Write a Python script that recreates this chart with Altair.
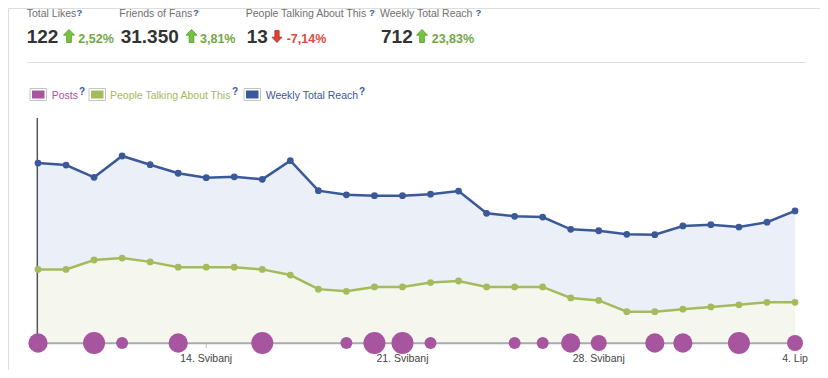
import altair as alt
import pandas as pd

# ---------------- data ----------------
dates = pd.date_range("2012-05-08", "2012-06-04").strftime("%Y-%m-%dT00:00:00").tolist()
reach = [970, 959, 893, 1008, 961, 915, 891, 896, 882, 983, 821, 799, 794, 794,
         802, 819, 699, 683, 679, 613, 605, 586, 584, 631, 638, 625, 651, 712]
ptat = [23.5, 23.5, 26.5, 27.1, 25.9, 24.2, 24.2, 24.2, 23.5, 21.7, 17.2, 16.5, 17.9, 17.9,
        19.3, 19.8, 17.9, 17.9, 17.9, 14.4, 13.6, 10.0, 10.0, 10.8, 11.5, 12.2, 13.0, 13.0]
posts = [3, 0, 4, 1, 0, 3, 0, 0, 4, 0, 0, 1, 4, 4, 1, 0, 0, 1, 1, 3, 2, 0, 3, 3, 0, 4, 0, 2]

tick_dates = ["2012-05-14T00:00:00", "2012-05-21T00:00:00", "2012-05-28T00:00:00", "2012-06-04T00:00:00"]
tick_labels = ["14. Svibanj", "21. Svibanj", "28. Svibanj", "4. Lip"]

header_labels = ["Total Likes", "Friends of Fans", "People Talking About This", "Weekly Total Reach"]
header_values = ["122", "31.350", "13", "712"]
header_changes = ["2,52%", "3,81%", "-7,14%", "23,83%"]
header_up = [True, True, False, True]

legend_labels = ["Posts", "People Talking About This", "Weekly Total Reach"]

# ---------------- styles / layout ----------------
BLUE = "#3b5998"
BLUE_FILL = "#ebeff7"
GREEN = "#a4bb5c"
GREEN_FILL = "#f5f7ee"
PURPLE = "#a8559f"
FONT = "Liberation Sans"

W, H = 812, 362
X0, X1 = 30, 787
Y0, YT = 335, 112

df = pd.DataFrame({"date": dates, "reach": reach, "ptat": ptat, "posts": posts})
ticks_df = pd.DataFrame({"date": tick_dates, "label": tick_labels})

xscale = alt.Scale(domain=[alt.DateTime(year=2012, month=5, date=8),
                           alt.DateTime(year=2012, month=6, date=4)],
                   range=[X0, X1])
xenc = alt.X("date:T", scale=xscale, axis=None)

reach_scale = alt.Scale(domain=[0, 1202], range=[Y0, YT], zero=False, nice=False)
ptat_scale = alt.Scale(domain=[0, 71.2], range=[Y0, YT], zero=False, nice=False)

base = alt.Chart(df)

reach_area = base.mark_area(color=BLUE_FILL, opacity=1).encode(
    x=xenc, y=alt.Y("reach:Q", scale=reach_scale, axis=None), y2=alt.datum(0))
ptat_area = base.mark_area(color=GREEN_FILL, opacity=1).encode(
    x=xenc, y=alt.Y("ptat:Q", scale=ptat_scale, axis=None), y2=alt.datum(0))

baseline = alt.Chart(alt.Data(values=[{}])).mark_rule(color="#aaaaaa", strokeWidth=2).encode(
    x=alt.value(X0), x2=alt.value(X1), y=alt.value(Y0 + 0.3))
vaxis = alt.Chart(alt.Data(values=[{}])).mark_rule(color="#555555", strokeWidth=1.5).encode(
    x=alt.value(X0 - 0.7), y=alt.value(110), y2=alt.value(Y0))

tick_marks = alt.Chart(ticks_df).mark_rule(color="#bbbbbb", strokeWidth=1).encode(
    x=xenc, y=alt.value(Y0 + 1), y2=alt.value(Y0 + 5))
tick_text = alt.Chart(ticks_df).mark_text(font=FONT, fontSize=10.5, color="#444444",
                                          align="center", baseline="alphabetic").encode(
    x=xenc, y=alt.value(353.5), text="label:N")

reach_line = base.mark_line(color=BLUE, strokeWidth=2.5).encode(
    x=xenc, y=alt.Y("reach:Q", scale=reach_scale, axis=None))
reach_pts = base.mark_circle(color=BLUE, opacity=1, size=46).encode(
    x=xenc, y=alt.Y("reach:Q", scale=reach_scale, axis=None)).transform_filter(
    f"datum.date != '{dates[-1]}'")
reach_last = base.mark_point(color=BLUE, fill="white", filled=False, opacity=1, size=40,
                             strokeWidth=2).encode(
    x=xenc, y=alt.Y("reach:Q", scale=reach_scale, axis=None)).transform_filter(
    f"datum.date == '{dates[-1]}'")

ptat_line = base.mark_line(color=GREEN, strokeWidth=2.5).encode(
    x=xenc, y=alt.Y("ptat:Q", scale=ptat_scale, axis=None))
ptat_pts = base.mark_circle(color=GREEN, opacity=1, size=46).encode(
    x=xenc, y=alt.Y("ptat:Q", scale=ptat_scale, axis=None)).transform_filter(
    f"datum.date != '{dates[-1]}'")
ptat_last = base.mark_point(color=GREEN, fill="white", filled=False, opacity=1, size=40,
                            strokeWidth=2).encode(
    x=xenc, y=alt.Y("ptat:Q", scale=ptat_scale, axis=None)).transform_filter(
    f"datum.date == '{dates[-1]}'")

bubbles = base.mark_circle(color=PURPLE, opacity=1).encode(
    x=xenc, y=alt.value(Y0),
    size=alt.Size("posts:Q", scale=alt.Scale(domain=[1, 4], range=[144, 484]), legend=None)
).transform_filter("datum.posts > 0")

layers = [reach_area, ptat_area, baseline, vaxis, tick_marks, tick_text,
          reach_line, reach_pts, reach_last, ptat_line, ptat_pts, ptat_last, bubbles]

# ---------------- header ----------------
LABEL_X = [18.7, 111.3, 237.7, 372]
QMARK_X = [68.5, 185, 361, 467.5]
VALUE_X = [18.7, 112.7, 238.7, 373]
ARROW_X = [61, 183.5, 269, 414]
CHANGE_X = [70.3, 192, 278.7, 423.7]

UP = "M0,-1L0.85,-0.12L0.36,-0.12L0.36,1L-0.36,1L-0.36,-0.12L-0.85,-0.12Z"
DOWN = "M0,1L0.85,0.12L0.36,0.12L0.36,-1L-0.36,-1L-0.36,0.12L-0.85,0.12Z"


def text_layer(t, x, y, size, color, bold=False):
    return alt.Chart(alt.Data(values=[{"t": t}])).mark_text(
        font=FONT, fontSize=size, color=color, align="left", baseline="alphabetic",
        fontWeight="bold" if bold else "normal").encode(
        x=alt.value(x), y=alt.value(y), text="t:N")


for i in range(4):
    layers.append(text_layer(header_labels[i], LABEL_X[i], 8.7, 10.5, "#6f6f6f"))
    layers.append(text_layer("?", QMARK_X[i], 7.6, 9.5, BLUE, bold=True))
    layers.append(text_layer(header_values[i], VALUE_X[i], 34.7, 19, "#333333", bold=True))
    up = header_up[i]
    layers.append(alt.Chart(alt.Data(values=[{}])).mark_point(
        shape=UP if up else DOWN, filled=True, opacity=1, size=170 if up else 140,
        fill="#78c23f" if up else "#dd4237", stroke="#4f9a28" if up else "#a8281f",
        strokeWidth=0.8).encode(x=alt.value(ARROW_X[i]), y=alt.value(28 if up else 28.5)))
    layers.append(text_layer(header_changes[i], CHANGE_X[i], 35, 12.5,
                             "#72a845" if up else "#e04a3c", bold=True))

# separator line
layers.append(alt.Chart(alt.Data(values=[{}])).mark_rule(color="#dddddd", strokeWidth=1).encode(
    x=alt.value(19), x2=alt.value(797.7), y=alt.value(54.5)))

# ---------------- legend ----------------
SW_X = [22, 81, 236]
LEG_TX = [43.7, 102, 257.7]
LEG_Q = [71, 224, 351]
leg_colors = [PURPLE, GREEN, BLUE]
for i in range(3):
    layers.append(alt.Chart(alt.Data(values=[{}])).mark_rect(
        fill="white", stroke="#c4c4c4", strokeWidth=1).encode(
        x=alt.value(SW_X[i]), x2=alt.value(SW_X[i] + 16.5), y=alt.value(80.5), y2=alt.value(92.5)))
    layers.append(alt.Chart(alt.Data(values=[{}])).mark_rect(
        fill=leg_colors[i]).encode(
        x=alt.value(SW_X[i] + 2), x2=alt.value(SW_X[i] + 14.5), y=alt.value(82.5), y2=alt.value(90.5)))
    layers.append(text_layer(legend_labels[i], LEG_TX[i], 91, 10.5, leg_colors[i]))
    layers.append(text_layer("?", LEG_Q[i], 86.5, 10, BLUE, bold=True))

chart = alt.layer(*layers).resolve_scale(y="independent", size="independent").properties(
    width=W, height=H, autosize=alt.AutoSizeParams(type="none"), padding=0
).configure_view(stroke=None).configure(background="white")

chart.save("out.html", embed_options={"renderer": "svg", "actions": False})
